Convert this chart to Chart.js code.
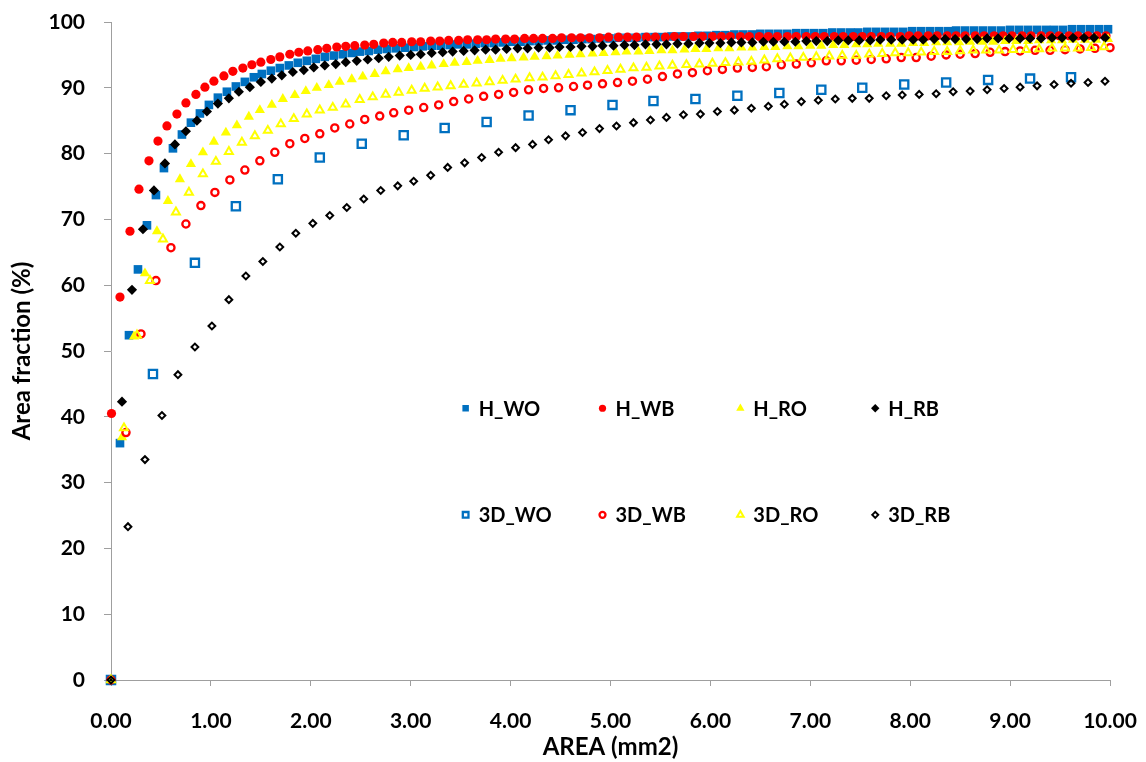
<!DOCTYPE html>
<html>
<head>
<meta charset="utf-8">
<script src="https://cdn.jsdelivr.net/npm/chart.js@4.4.1/dist/chart.umd.min.js"></script>
<style>
  html, body { margin: 0; padding: 0; background: #ffffff; }
  #c { display: block; }
</style>
</head>
<body>
<canvas id="c" width="1146" height="762"></canvas>
<script>
// ---- Series data: cumulative area fraction (%) against particle area (mm2) ----

const hwoX = [0, 0.09, 0.18, 0.27, 0.36, 0.45, 0.53, 0.62, 0.71, 0.80, 0.89, 0.98, 1.07, 1.16, 1.25, 1.34, 1.43, 1.51, 1.60, 1.69, 1.78,
  1.87, 1.96, 2.05, 2.14, 2.23, 2.32, 2.41, 2.49, 2.58, 2.67, 2.76, 2.85, 2.94, 3.03, 3.12, 3.21, 3.30, 3.39, 3.47, 3.56,
  3.65, 3.74, 3.83, 3.92, 4.01, 4.10, 4.19, 4.28, 4.37, 4.46, 4.54, 4.63, 4.72, 4.81, 4.90, 4.99, 5.08, 5.17, 5.26, 5.35,
  5.44, 5.52, 5.61, 5.70, 5.79, 5.88, 5.97, 6.06, 6.15, 6.24, 6.33, 6.42, 6.50, 6.59, 6.68, 6.77, 6.86, 6.95, 7.04, 7.13,
  7.22, 7.31, 7.40, 7.48, 7.57, 7.66, 7.75, 7.84, 7.93, 8.02, 8.11, 8.20, 8.29, 8.38, 8.46, 8.55, 8.64, 8.73, 8.82, 8.91,
  9.00, 9.09, 9.18, 9.27, 9.36, 9.44, 9.53, 9.62, 9.71, 9.80, 9.89, 9.98];
const hwoY = [0, 36.0, 52.4, 62.4, 69.1, 73.7, 77.8, 80.8, 82.9, 84.7, 86.1, 87.4, 88.5, 89.4, 90.2, 90.9, 91.6, 92.1, 92.6, 93.0, 93.4,
  93.8, 94.1, 94.4, 94.7, 94.9, 95.1, 95.3, 95.5, 95.6, 95.8, 95.9, 96.0, 96.1, 96.2, 96.3, 96.4, 96.4, 96.5, 96.6, 96.6,
  96.7, 96.8, 96.8, 96.9, 97.0, 97.0, 97.1, 97.1, 97.2, 97.2, 97.3, 97.3, 97.4, 97.4, 97.5, 97.5, 97.6, 97.6, 97.6, 97.7,
  97.7, 97.7, 97.8, 97.8, 97.8, 97.9, 97.9, 98.0, 98.0, 98.1, 98.1, 98.1, 98.2, 98.2, 98.2, 98.2, 98.3, 98.3, 98.3, 98.3,
  98.4, 98.4, 98.4, 98.4, 98.5, 98.5, 98.5, 98.5, 98.5, 98.6, 98.6, 98.6, 98.6, 98.6, 98.7, 98.7, 98.7, 98.7, 98.7, 98.7,
  98.8, 98.8, 98.8, 98.8, 98.8, 98.8, 98.8, 98.9, 98.9, 98.9, 98.9, 98.9];

const hwbX = [0, 0.005, 0.09, 0.19, 0.28, 0.38, 0.47, 0.56, 0.66, 0.75, 0.85, 0.94, 1.03, 1.13, 1.22, 1.32, 1.41, 1.50, 1.60, 1.69, 1.79,
  1.88, 1.97, 2.07, 2.16, 2.26, 2.35, 2.44, 2.54, 2.63, 2.73, 2.82, 2.91, 3.01, 3.10, 3.20, 3.29, 3.38, 3.48, 3.57, 3.67,
  3.76, 3.85, 3.95, 4.04, 4.14, 4.23, 4.32, 4.42, 4.51, 4.61, 4.70, 4.79, 4.89, 4.98, 5.08, 5.17, 5.26, 5.36, 5.45, 5.55,
  5.64, 5.73, 5.83, 5.92, 6.02, 6.11, 6.20, 6.30, 6.39, 6.49, 6.58, 6.67, 6.77, 6.86, 6.96, 7.05, 7.14, 7.24, 7.33, 7.43,
  7.52, 7.61, 7.71, 7.80, 7.90, 7.99, 8.08, 8.18, 8.27, 8.37, 8.46, 8.55, 8.65, 8.74, 8.84, 8.93, 9.02, 9.12, 9.21, 9.31,
  9.40, 9.49, 9.59, 9.68, 9.78, 9.87, 9.96];
const hwbY = [0, 40.5, 58.2, 68.2, 74.6, 78.9, 81.9, 84.2, 86.0, 87.7, 89.0, 90.1, 91.0, 91.8, 92.5, 93.0, 93.5, 93.9, 94.3, 94.7, 95.1,
  95.4, 95.6, 95.8, 96.0, 96.2, 96.3, 96.4, 96.5, 96.6, 96.8, 96.9, 96.9, 97.0, 97.0, 97.1, 97.1, 97.2, 97.2, 97.3, 97.3,
  97.3, 97.4, 97.4, 97.4, 97.5, 97.5, 97.5, 97.5, 97.6, 97.6, 97.6, 97.6, 97.6, 97.7, 97.7, 97.7, 97.7, 97.7, 97.7, 97.7,
  97.8, 97.8, 97.8, 97.8, 97.8, 97.8, 97.8, 97.8, 97.8, 97.8, 97.8, 97.8, 97.8, 97.8, 97.8, 97.8, 97.8, 97.8, 97.8, 97.8,
  97.8, 97.8, 97.8, 97.8, 97.8, 97.9, 97.9, 97.9, 97.9, 97.9, 97.9, 97.9, 97.9, 97.9, 97.9, 97.9, 97.9, 97.9, 97.9, 97.9,
  97.9, 97.9, 97.9, 97.9, 97.9, 97.9, 97.9];

const hroX = [0, 0.11, 0.23, 0.34, 0.46, 0.57, 0.69, 0.80, 0.92, 1.03, 1.15, 1.26, 1.38, 1.49, 1.61, 1.72, 1.84, 1.95, 2.06, 2.18, 2.29,
  2.41, 2.52, 2.64, 2.75, 2.87, 2.98, 3.10, 3.21, 3.33, 3.44, 3.56, 3.67, 3.79, 3.90, 4.01, 4.13, 4.24, 4.36, 4.47, 4.59,
  4.70, 4.82, 4.93, 5.05, 5.16, 5.28, 5.39, 5.51, 5.62, 5.74, 5.85, 5.96, 6.08, 6.19, 6.31, 6.42, 6.54, 6.65, 6.77, 6.88,
  7.00, 7.11, 7.23, 7.34, 7.46, 7.57, 7.68, 7.80, 7.91, 8.03, 8.14, 8.26, 8.37, 8.49, 8.60, 8.72, 8.83, 8.95, 9.06, 9.18,
  9.29, 9.41, 9.52, 9.63, 9.75, 9.86, 9.98];
const hroY = [0, 36.9, 52.2, 61.8, 68.2, 72.8, 76.1, 78.4, 80.2, 81.8, 83.2, 84.3, 85.6, 86.6, 87.4, 88.3, 88.9, 89.5, 90.0, 90.4, 90.9,
  91.3, 91.7, 92.1, 92.5, 92.8, 93.0, 93.2, 93.4, 93.6, 93.8, 93.9, 94.1, 94.2, 94.4, 94.5, 94.6, 94.7, 94.8, 94.9, 95.0,
  95.1, 95.2, 95.3, 95.4, 95.5, 95.5, 95.6, 95.7, 95.7, 95.8, 95.9, 95.9, 96.0, 96.0, 96.1, 96.1, 96.2, 96.2, 96.3, 96.3,
  96.4, 96.4, 96.5, 96.5, 96.6, 96.6, 96.7, 96.7, 96.7, 96.8, 96.8, 96.9, 96.9, 96.9, 97.0, 97.0, 97.0, 97.1, 97.1, 97.1,
  97.2, 97.2, 97.2, 97.3, 97.3, 97.3, 97.4];

const hrbX = [0, 0.11, 0.21, 0.32, 0.43, 0.54, 0.64, 0.75, 0.86, 0.96, 1.07, 1.18, 1.28, 1.39, 1.50, 1.61, 1.71, 1.82, 1.93, 2.03, 2.14,
  2.25, 2.35, 2.46, 2.57, 2.68, 2.78, 2.89, 3.00, 3.10, 3.21, 3.32, 3.42, 3.53, 3.64, 3.75, 3.85, 3.96, 4.07, 4.17, 4.28,
  4.39, 4.49, 4.60, 4.71, 4.82, 4.92, 5.03, 5.14, 5.24, 5.35, 5.46, 5.56, 5.67, 5.78, 5.89, 5.99, 6.10, 6.21, 6.31, 6.42,
  6.53, 6.63, 6.74, 6.85, 6.96, 7.06, 7.17, 7.28, 7.38, 7.49, 7.60, 7.70, 7.81, 7.92, 8.03, 8.13, 8.24, 8.35, 8.45, 8.56,
  8.67, 8.77, 8.88, 8.99, 9.10, 9.20, 9.31, 9.42, 9.52, 9.63, 9.74, 9.84, 9.95];
const hrbY = [0, 42.3, 59.3, 68.5, 74.4, 78.5, 81.4, 83.4, 85.0, 86.4, 87.6, 88.4, 89.4, 90.1, 90.9, 91.4, 91.9, 92.4, 92.7, 93.1, 93.4,
  93.6, 93.9, 94.1, 94.3, 94.5, 94.7, 94.9, 95.0, 95.1, 95.3, 95.4, 95.5, 95.6, 95.7, 95.8, 95.8, 95.9, 96.0, 96.0, 96.1,
  96.1, 96.2, 96.2, 96.3, 96.3, 96.4, 96.4, 96.5, 96.5, 96.6, 96.6, 96.6, 96.7, 96.7, 96.8, 96.8, 96.8, 96.9, 96.9, 96.9,
  97.0, 97.0, 97.0, 97.0, 97.1, 97.1, 97.1, 97.2, 97.2, 97.2, 97.2, 97.3, 97.3, 97.3, 97.3, 97.3, 97.4, 97.4, 97.4, 97.4,
  97.4, 97.5, 97.5, 97.5, 97.5, 97.5, 97.5, 97.6, 97.6, 97.6, 97.6, 97.6, 97.6];

const dwoX = [0, 0.42, 0.84, 1.25, 1.67, 2.09, 2.51, 2.93, 3.34, 3.76, 4.18, 4.60, 5.02, 5.43, 5.85, 6.27, 6.69, 7.11, 7.52, 7.94, 8.36,
  8.78, 9.20, 9.61];
const dwoY = [0, 46.5, 63.4, 72.0, 76.1, 79.4, 81.5, 82.8, 83.9, 84.8, 85.8, 86.6, 87.4, 88.0, 88.3, 88.8, 89.2, 89.7, 90.0, 90.5, 90.8,
  91.2, 91.4, 91.6];

const dwbX = [0, 0.15, 0.30, 0.45, 0.60, 0.75, 0.90, 1.04, 1.19, 1.34, 1.49, 1.64, 1.79, 1.94, 2.09, 2.24, 2.39, 2.54, 2.69, 2.83, 2.98,
  3.13, 3.28, 3.43, 3.58, 3.73, 3.88, 4.03, 4.18, 4.33, 4.48, 4.63, 4.77, 4.92, 5.07, 5.22, 5.37, 5.52, 5.67, 5.82, 5.97,
  6.12, 6.27, 6.42, 6.56, 6.71, 6.86, 7.01, 7.16, 7.31, 7.46, 7.61, 7.76, 7.91, 8.06, 8.21, 8.36, 8.50, 8.65, 8.80, 8.95,
  9.10, 9.25, 9.40, 9.55, 9.70, 9.85, 10.00];
const dwbY = [0, 37.6, 52.6, 60.7, 65.7, 69.3, 72.1, 74.1, 76.0, 77.5, 78.9, 80.2, 81.5, 82.3, 83.0, 83.9, 84.5, 85.2, 85.7, 86.2, 86.6,
  87.0, 87.4, 87.9, 88.3, 88.7, 89.0, 89.3, 89.7, 89.9, 90.0, 90.2, 90.4, 90.6, 90.8, 91.0, 91.3, 91.7, 92.1, 92.3, 92.6,
  92.8, 93.0, 93.1, 93.2, 93.5, 93.6, 93.8, 94.1, 94.1, 94.2, 94.3, 94.4, 94.6, 94.6, 94.8, 95.0, 95.1, 95.2, 95.4, 95.5,
  95.6, 95.7, 95.7, 95.8, 95.9, 96.0, 96.1];

const droX = [0, 0.13, 0.26, 0.39, 0.52, 0.65, 0.78, 0.92, 1.05, 1.18, 1.31, 1.44, 1.57, 1.70, 1.83, 1.96, 2.09, 2.22, 2.35, 2.49, 2.62,
  2.75, 2.88, 3.01, 3.14, 3.27, 3.40, 3.53, 3.66, 3.79, 3.92, 4.05, 4.19, 4.32, 4.45, 4.58, 4.71, 4.84, 4.97, 5.10, 5.23,
  5.36, 5.49, 5.62, 5.76, 5.89, 6.02, 6.15, 6.28, 6.41, 6.54, 6.67, 6.80, 6.93, 7.06, 7.19, 7.32, 7.46, 7.59, 7.72, 7.85,
  7.98, 8.11, 8.24, 8.37, 8.50, 8.63, 8.76, 8.89, 9.03, 9.16, 9.29, 9.42, 9.55, 9.68, 9.81, 9.94];
const droY = [0, 38.3, 52.4, 60.7, 67.0, 71.1, 74.1, 76.9, 78.8, 80.3, 81.7, 82.7, 83.5, 84.5, 85.3, 86.0, 86.6, 87.0, 87.5, 88.2, 88.6,
  89.0, 89.3, 89.6, 89.9, 90.1, 90.3, 90.5, 90.7, 90.9, 91.1, 91.3, 91.5, 91.6, 91.8, 92.0, 92.2, 92.4, 92.6, 92.8, 93.0,
  93.1, 93.3, 93.4, 93.5, 93.6, 93.7, 93.8, 93.9, 94.0, 94.2, 94.4, 94.5, 94.6, 94.7, 94.8, 94.9, 94.9, 95.1, 95.2, 95.3,
  95.3, 95.4, 95.5, 95.5, 95.6, 95.7, 95.7, 95.7, 95.8, 95.8, 95.9, 96.0, 96.0, 96.0, 96.1, 96.2];

const drbX = [0, 0.17, 0.34, 0.51, 0.67, 0.84, 1.01, 1.18, 1.35, 1.52, 1.69, 1.85, 2.02, 2.19, 2.36, 2.53, 2.70, 2.87, 3.03, 3.20, 3.37,
  3.54, 3.71, 3.88, 4.05, 4.22, 4.38, 4.55, 4.72, 4.89, 5.06, 5.23, 5.40, 5.56, 5.73, 5.90, 6.07, 6.24, 6.41, 6.58, 6.74,
  6.91, 7.08, 7.25, 7.42, 7.59, 7.76, 7.92, 8.09, 8.26, 8.43, 8.60, 8.77, 8.94, 9.10, 9.27, 9.44, 9.61, 9.78, 9.95];
const drbY = [0, 23.3, 33.5, 40.2, 46.4, 50.6, 53.8, 57.8, 61.4, 63.6, 65.8, 67.9, 69.4, 70.6, 71.8, 73.1, 74.4, 75.1, 75.8, 76.7, 77.9,
  78.6, 79.4, 80.2, 80.9, 81.4, 82.1, 82.7, 83.2, 83.8, 84.2, 84.7, 85.1, 85.5, 85.9, 86.0, 86.4, 86.6, 86.9, 87.2, 87.5,
  87.9, 88.1, 88.3, 88.4, 88.4, 88.8, 88.9, 89.0, 89.1, 89.4, 89.5, 89.7, 89.9, 90.1, 90.3, 90.5, 90.7, 90.8, 91.0];

// Axis tick values
const xTicks = [0, 1, 2, 3, 4, 5, 6, 7, 8, 9, 10];
const yTicks = [0, 10, 20, 30, 40, 50, 60, 70, 80, 90, 100];

// Legend grid placement in data units (columns along x, rows along y)
const legendCols = [3.55, 4.92, 6.30, 7.65];
const legendRows = [41.3, 25.1];

const BLUE = '#0070C0', RED = '#FF0000', YELLOW = '#FFFF00', BLACK = '#000000';
const NONE = 'rgba(0,0,0,0)';

const pts = (xs, ys) => xs.map((x, i) => ({ x: x, y: ys[i] }));

function series(label, xs, ys, style, fill, stroke, radius, bw, legendRadius, order) {
  return {
    label: label,
    data: pts(xs, ys),
    showLine: false,
    pointStyle: style,
    pointRadius: radius,
    pointHoverRadius: radius,
    pointBackgroundColor: fill,
    pointBorderColor: stroke,
    pointBorderWidth: bw,
    backgroundColor: fill,
    borderColor: stroke,
    clip: false,
    order: order,
    legendRadius: legendRadius
  };
}

// Later series are drawn on top of earlier ones (higher order = drawn first)
const datasets = [
  series('H_WO', hwoX, hwoY, 'rect', BLUE, BLUE, 6.1, 0, 4.6, 8),
  series('H_WB', hwbX, hwbY, 'circle', RED, RED, 4.6, 0, 3.6, 7),
  series('H_RO', hroX, hroY, 'triangle', YELLOW, YELLOW, 5.9, 0, 4.8, 6),
  series('H_RB', hrbX, hrbY, 'rectRot', BLACK, BLACK, 5.1, 0, 4.2, 5),
  series('3D_WO', dwoX, dwoY, 'rect', NONE, BLUE, 5.8, 2.3, 4.0, 4),
  series('3D_WB', dwbX, dwbY, 'circle', NONE, RED, 3.6, 2.3, 3.0, 3),
  series('3D_RO', droX, droY, 'triangle', NONE, YELLOW, 4.6, 2.0, 3.8, 2),
  series('3D_RB', drbX, drbY, 'rectRot', NONE, BLACK, 3.4, 2.0, 3.0, 1)
];

function markerPath(ctx, style, r, x, y) {
  ctx.beginPath();
  if (style === 'rect') {
    const s = Math.SQRT1_2 * r;
    ctx.rect(x - s, y - s, 2 * s, 2 * s);
  } else if (style === 'triangle') {
    let a = 0;
    ctx.moveTo(x + Math.sin(a) * r, y - Math.cos(a) * r);
    a += 2 * Math.PI / 3;
    ctx.lineTo(x + Math.sin(a) * r, y - Math.cos(a) * r);
    a += 2 * Math.PI / 3;
    ctx.lineTo(x + Math.sin(a) * r, y - Math.cos(a) * r);
  } else if (style === 'rectRot') {
    ctx.moveTo(x - r, y);
    ctx.lineTo(x, y - r);
    ctx.lineTo(x + r, y);
    ctx.lineTo(x, y + r);
  } else {
    ctx.arc(x, y, r, 0, Math.PI * 2);
  }
  ctx.closePath();
}

// Legend laid out as a 4 x 2 grid inside the plot area
const gridLegend = {
  id: 'gridLegend',
  afterDraw(chart) {
    const ctx = chart.ctx;
    const xs = chart.scales.x, ys = chart.scales.y;
    chart.data.datasets.forEach((ds, i) => {
      const px = xs.getPixelForValue(legendCols[i % 4]);
      const py = ys.getPixelForValue(legendRows[Math.floor(i / 4)]);
      ctx.save();
      markerPath(ctx, ds.pointStyle, ds.legendRadius, px, py);
      if (ds.pointBackgroundColor !== NONE) {
        ctx.fillStyle = ds.pointBackgroundColor;
        ctx.fill();
      }
      if (ds.pointBorderWidth > 0) {
        ctx.strokeStyle = ds.pointBorderColor;
        ctx.lineWidth = ds.pointBorderWidth;
        ctx.stroke();
      }
      ctx.fillStyle = '#000000';
      ctx.font = 'bold 20px Lato';
      ctx.textAlign = 'left';
      ctx.textBaseline = 'middle';
      ctx.fillText(ds.label, px + 13, py + 1);
      ctx.restore();
    });
  }
};

const tickFont = { family: 'Lato', size: 21, weight: 'bold' };
const titleFont = { family: 'Lato', size: 24, weight: 'bold' };
const AXIS = '#9F9F9F';

new Chart(document.getElementById('c'), {
  type: 'scatter',
  data: { datasets: datasets },
  options: {
    responsive: false,
    animation: false,
    devicePixelRatio: 1,
    events: [],
    layout: { padding: { left: 0, right: 36, top: 22, bottom: 0 } },
    scales: {
      x: {
        type: 'linear',
        min: 0,
        max: 10,
        afterBuildTicks: (s) => { s.ticks = xTicks.map(v => ({ value: v })); },
        ticks: {
          color: '#000000',
          font: tickFont,
          padding: 23,
          maxRotation: 0,
          autoSkip: false,
          callback: (v) => Number(v).toFixed(2)
        },
        grid: { drawOnChartArea: false, drawTicks: true, tickLength: 6, color: AXIS, lineWidth: 1 },
        border: { color: AXIS, width: 1 },
        title: { display: true, text: 'AREA (mm2)', color: '#000000', font: titleFont, padding: { top: 0, bottom: 0 } },
        afterFit: (s) => { s.height = 82; s.paddingLeft = 0; s.paddingRight = 0; }
      },
      y: {
        type: 'linear',
        min: 0,
        max: 100,
        afterBuildTicks: (s) => { s.ticks = yTicks.map(v => ({ value: v })); },
        ticks: { color: '#000000', font: tickFont, padding: 19 },
        grid: { drawOnChartArea: false, drawTicks: true, tickLength: 7, color: AXIS, lineWidth: 1 },
        border: { color: AXIS, width: 1 },
        title: { display: true, text: 'Area fraction (%)', color: '#000000', font: titleFont, padding: { top: 8, bottom: 0 } },
        afterFit: (s) => { s.width = 111; s.paddingTop = 0; s.paddingBottom = 0; }
      }
    },
    plugins: {
      legend: { display: false },
      tooltip: { enabled: false }
    }
  },
  plugins: [gridLegend]
});
</script>
</body>
</html>
